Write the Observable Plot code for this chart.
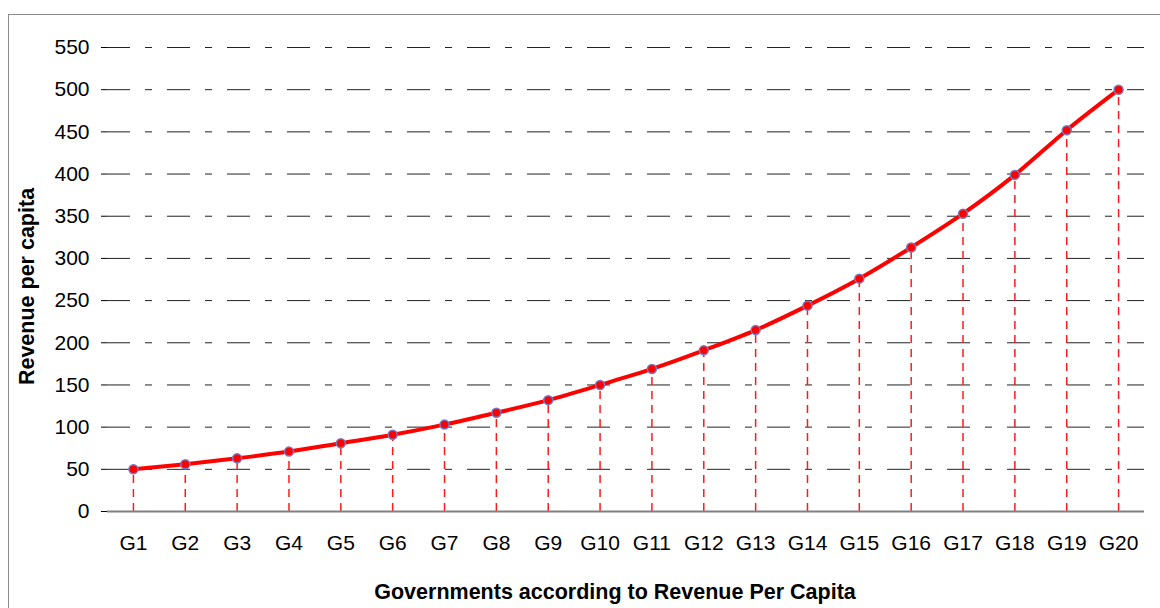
<!DOCTYPE html>
<html>
<head>
<meta charset="utf-8">
<script src="https://cdn.jsdelivr.net/npm/d3@7"></script>
<script src="https://cdn.jsdelivr.net/npm/@observablehq/plot@0.6"></script>
<style>
  html, body { margin: 0; padding: 0; background: #fff; overflow: hidden; }
  #wrap { position: relative; width: 1160px; height: 608px; }
  #border { position: absolute; left: 8px; top: 14px; width: 1200px; height: 700px;
            border: 1px solid #8c8c8c; box-sizing: border-box; pointer-events: none; }
  #chart svg { display: block; }
</style>
</head>
<body>
<div id="wrap">
  <div id="chart"></div>
  <div id="border"></div>
</div>
<script>
// Governments ranked by revenue per capita
const governments = ["G1","G2","G3","G4","G5","G6","G7","G8","G9","G10",
                     "G11","G12","G13","G14","G15","G16","G17","G18","G19","G20"];
const revenue = [50, 56, 63, 71, 81, 91, 103, 117, 132, 150,
                 169, 191, 215, 244, 276, 313, 353, 399, 452, 500];
const yTicks = [0, 50, 100, 150, 200, 250, 300, 350, 400, 450, 500, 550];
const xTitle = "Governments according to Revenue Per Capita";
const yTitle = "Revenue per capita";

const data = governments.map((g, i) => ({gov: g, value: revenue[i]}));

const chart = Plot.plot({
  width: 1160,
  height: 608,
  marginLeft: 107,
  marginRight: 16,
  marginTop: 47,
  marginBottom: 97,
  style: {fontFamily: "'Liberation Sans', Arial, sans-serif", fontSize: "21px", color: "#000", background: "#fff"},
  x: {type: "point", domain: governments, padding: 0.5, round: false},
  y: {domain: [0, 550]},
  marks: [
    // dashed horizontal gridlines
    Plot.ruleY(yTicks.filter(d => d > 0), {stroke: "#222", strokeWidth: 1, strokeDasharray: "23,15,7,15"}),
    // drop lines from each point to the baseline
    Plot.ruleX(data, {x: "gov", y1: 0, y2: "value", stroke: "#ff1a1a", strokeWidth: 1.5, strokeDasharray: "8,6"}),
    // axes
    Plot.axisY({ticks: yTicks, tickSize: 6, tickPadding: 12, label: null}),
    Plot.ruleX([0], {frameAnchor: "left", y1: 0, y2: 550, stroke: "#000", strokeWidth: 1}),
    Plot.axisX({tickSize: 0, tickPadding: 24, label: null}),
    Plot.ruleY([0], {stroke: "#808080", strokeWidth: 2}),
    Plot.tickY([0], {x: null, stroke: "#808080"}),
    // revenue curve with markers
    Plot.line(data, {x: "gov", y: "value", stroke: "#ff0000", strokeWidth: 4, curve: "monotone-x"}),
    Plot.dot(data, {x: "gov", y: "value", r: 4.5, fill: "#ff0000", stroke: "#7a78c0", strokeWidth: 1.5}),
    // axis titles
    Plot.text([yTitle], {frameAnchor: "left", textAnchor: "middle", dx: -80, dy: 7, rotate: -90,
                         fontWeight: "bold", fontSize: 21.5}),
    Plot.text([xTitle], {frameAnchor: "bottom", dy: 87, dx: -11, fontWeight: "bold", fontSize: 21.5})
  ]
});

document.getElementById("chart").appendChild(chart);
</script>
</body>
</html>
